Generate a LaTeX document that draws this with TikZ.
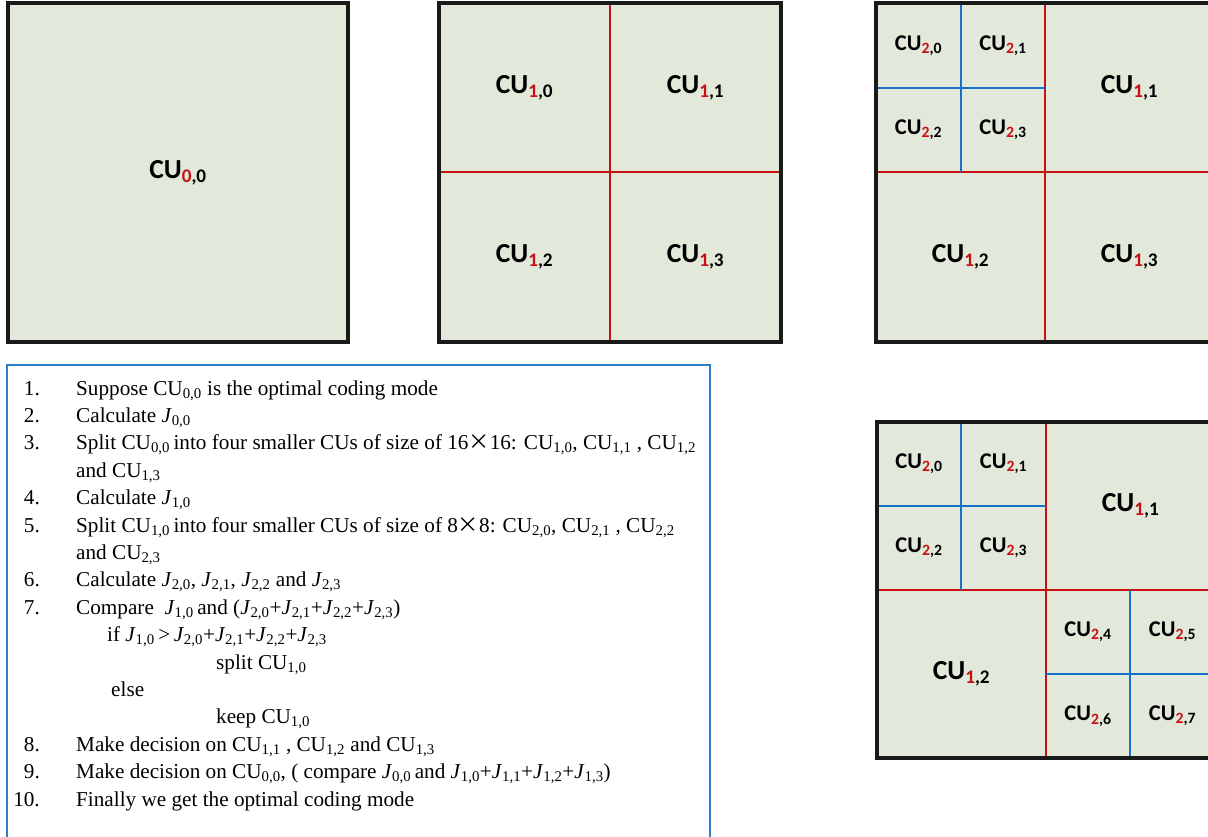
\documentclass[tikz,border=0pt]{standalone}
\usepackage{fontspec}
\setmainfont{Liberation Serif}
\newfontfamily\calibri{Carlito}
\newfontfamily\cjk{Noto Sans CJK SC}
\definecolor{cufill}{RGB}{226,232,218}
\definecolor{cured}{RGB}{200,16,20}
\definecolor{cublue}{RGB}{20,115,200}
\definecolor{boxblue}{RGB}{45,128,200}
\newcommand{\lbl}[2]{{\calibri\bfseries CU\textsubscript{\textcolor{cured}{#1},#2}}}
\newcommand{\CUs}[1]{CU\textsubscript{#1}}
\newcommand{\Js}[1]{\textit{J}\textsubscript{#1}}
\newcommand{\tms}{{\cjk ×}}
\begin{document}
\begin{tikzpicture}[x=1pt,y=-1pt,
	cubox/.style={fill=cufill},
	border/.style={draw=black!90,line width=3.5pt},
	redline/.style={draw=cured,line width=2.5pt},
	blueline/.style={draw=cublue,line width=2.5pt},
	big/.style={font=\fontsize{27.5}{30}\selectfont},
	small/.style={font=\fontsize{22.5}{24}\selectfont},
	txt/.style={anchor=base west,inner sep=0pt,font=\fontsize{21.2}{26}\selectfont},
	num/.style={anchor=base east,inner sep=0pt,font=\fontsize{21.2}{26}\selectfont}]
	\useasboundingbox (0,0) rectangle (1208,836);
	\clip (0,0) rectangle (1208,836);

	\fill[cubox] (8,3) rectangle (348,342);
	\draw[border] (8,3) rectangle (348,342);
	\node[big] (a00) at (178,172.5) {\lbl{0}{0}};

	\fill[cubox] (439,3) rectangle (781,342);
	\draw[redline] (610,3) -- (610,342);
	\draw[redline] (439,172) -- (781,172);
	\draw[border] (439,3) rectangle (781,342);
	\node[big] (b10) at (524.5,87.5) {\lbl{1}{0}};
	\node[big] (b11) at (695.5,87.5) {\lbl{1}{1}};
	\node[big] (b12) at (524.5,257) {\lbl{1}{2}};
	\node[big] (b13) at (695.5,257) {\lbl{1}{3}};

	\fill[cubox] (876,3) rectangle (1214,342);
	\draw[redline] (1045,3) -- (1045,342);
	\draw[redline] (876,172) -- (1214,172);
	\draw[blueline] (961,3) -- (961,172);
	\draw[blueline] (876,88) -- (1045,88);
	\draw[border] (876,3) rectangle (1214,342);
	\node[small] (c20) at (918.5,45.5) {\lbl{2}{0}};
	\node[small] (c21) at (1003,45.5) {\lbl{2}{1}};
	\node[small] (c22) at (918.5,130) {\lbl{2}{2}};
	\node[small] (c23) at (1003,130) {\lbl{2}{3}};
	\node[big] (c11) at (1129.5,87.5) {\lbl{1}{1}};
	\node[big] (c12) at (960.5,257) {\lbl{1}{2}};
	\node[big] (c13) at (1129.5,257) {\lbl{1}{3}};

	\fill[cubox] (877,422) rectangle (1215,758);
	\draw[redline] (1046,422) -- (1046,758);
	\draw[redline] (877,590) -- (1215,590);
	\draw[blueline] (961,422) -- (961,590);
	\draw[blueline] (877,506) -- (1046,506);
	\draw[blueline] (1130,590) -- (1130,758);
	\draw[blueline] (1046,674) -- (1215,674);
	\draw[border] (877,422) rectangle (1215,758);
	\node[small] (d20) at (919,464) {\lbl{2}{0}};
	\node[small] (d21) at (1003.5,464) {\lbl{2}{1}};
	\node[small] (d22) at (919,548) {\lbl{2}{2}};
	\node[small] (d23) at (1003.5,548) {\lbl{2}{3}};
	\node[big] (d11) at (1130.5,506) {\lbl{1}{1}};
	\node[big] (d12) at (961.5,674) {\lbl{1}{2}};
	\node[small] (d24) at (1088,632) {\lbl{2}{4}};
	\node[small] (d25) at (1172.5,632) {\lbl{2}{5}};
	\node[small] (d26) at (1088,716) {\lbl{2}{6}};
	\node[small] (d27) at (1172.5,716) {\lbl{2}{7}};

	\draw[draw=boxblue,line width=2pt] (7,365) rectangle (710,850);
	\foreach \n/\y in {1/395,2/422.4,3/449.8,4/504.6,5/532,6/586.8,7/614.2,8/751.2,9/778.6,10/806}{
		\node[num] (n\n) at (40,\y) {\n.};
	}
	\node[txt] (s1) at (76,395) {Suppose \CUs{0,0} is the optimal coding mode};
	\node[txt] (s2) at (76,422.4) {Calculate \Js{0,0}};
	\node[txt] (s3) at (76,449.8) {Split \CUs{0,0}\,into four smaller CUs of size of 16\tms16: \CUs{1,0}, \CUs{1,1} , \CUs{1,2}};
	\node[txt] (s3b) at (76,477.2) {and \CUs{1,3}};
	\node[txt] (s4) at (76,504.6) {Calculate \Js{1,0}};
	\node[txt] (s5) at (76,532) {Split \CUs{1,0}\,into four smaller CUs of size of 8\tms8: \CUs{2,0}, \CUs{2,1} , \CUs{2,2}};
	\node[txt] (s5b) at (76,559.4) {and \CUs{2,3}};
	\node[txt] (s6) at (76,586.8) {Calculate \Js{2,0}, \Js{2,1}, \Js{2,2} and \Js{2,3}};
	\node[txt] (s7) at (76,614.2) {Compare\ \ \Js{1,0}\,and (\Js{2,0}+\Js{2,1}+\Js{2,2}+\Js{2,3})};
	\node[txt] (s7if) at (107,641.6) {if \Js{1,0}\,>\,\Js{2,0}+\Js{2,1}+\Js{2,2}+\Js{2,3}};
	\node[txt] (s7split) at (216,669) {split \CUs{1,0}};
	\node[txt] (s7else) at (111,696.4) {else};
	\node[txt] (s7keep) at (216,723.8) {keep \CUs{1,0}};
	\node[txt] (s8) at (76,751.2) {Make decision on \CUs{1,1} , \CUs{1,2} and \CUs{1,3}};
	\node[txt] (s9) at (76,778.6) {Make decision on \CUs{0,0}, ( compare \Js{0,0}\,and \Js{1,0}+\Js{1,1}+\Js{1,2}+\Js{1,3})};
	\node[txt] (s10) at (76,806) {Finally we get the optimal coding mode};
\end{tikzpicture}
\end{document}
